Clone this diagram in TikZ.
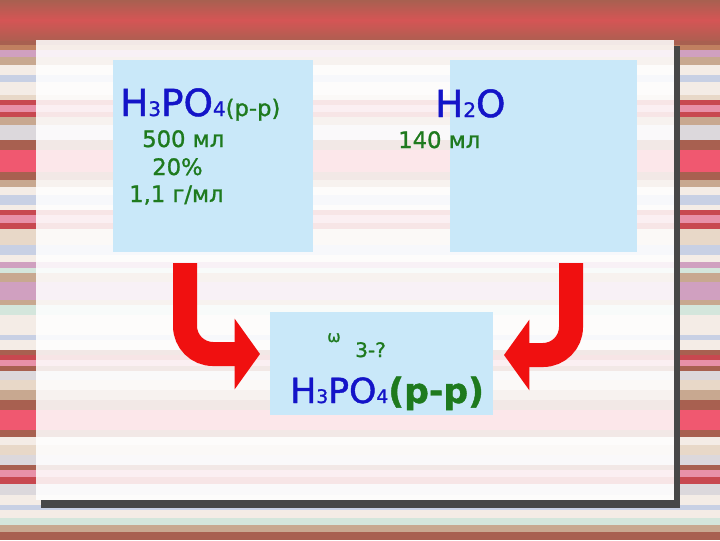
\documentclass[tikz,border=0pt]{standalone}
\usepackage{fontspec}
\setmainfont{DejaVu Sans}
\newfontfamily\heavy[FakeBold=1.2]{DejaVu Sans}
\usepackage{tikz}
\usetikzlibrary{arrows.meta}

\definecolor{sred}{HTML}{F05870}
\definecolor{sbrn}{HTML}{A86050}
\definecolor{sorng}{HTML}{C08060}
\definecolor{spink}{HTML}{E890A8}
\definecolor{srose}{HTML}{C84850}
\definecolor{stan}{HTML}{C8A890}
\definecolor{smauve}{HTML}{D0A0C0}
\definecolor{slite}{HTML}{F4ECE6}
\definecolor{sblue}{HTML}{C8D0E4}
\definecolor{sgrey}{HTML}{DCD8DC}
\definecolor{sgreen}{HTML}{D4E6DC}
\definecolor{sbeige}{HTML}{E8D8C8}
\definecolor{bandred}{HTML}{D55555}
\definecolor{boxblue}{HTML}{C9E8F9}
\definecolor{chemblue}{HTML}{1414C8}
\definecolor{chemgreen}{HTML}{1E7A1E}
\definecolor{arrowred}{HTML}{F01010}

\newcommand{\idx}[2]{{\fontsize{#1}{#1}\selectfont #2}}

\begin{document}
\begin{tikzpicture}[x=0.75pt,y=-0.75pt]
\tikzstyle{box}=[fill=boxblue, inner sep=0pt];
\tikzstyle{txt}=[inner sep=0pt, anchor=base west, font=\heavy];
\tikzstyle{redarrow}=[draw=arrowred, line width=18pt, rounded corners=21pt, -{Triangle[length=19pt,width=52pt]}];
\useasboundingbox (0,0) rectangle (720,540);

% background stripes
\fill[slite] (0,40) rectangle (720,540);
\foreach \ya/\yb/\col in {40/45/sbrn, 45/50/sorng, 50/57/smauve, 57/65/stan,
  75/82/sblue, 95/100/sbeige, 100/105/srose, 105/112/spink, 112/117/srose,
  117/125/stan, 125/140/sgrey, 140/150/sbrn, 150/172/sred, 172/180/sbrn,
  180/187/stan, 195/205/sblue, 210/215/srose, 215/223/spink, 223/229/srose,
  229/245/sbeige, 245/255/sblue, 262/268/smauve, 268/273/sgreen, 273/282/stan,
  282/300/smauve, 300/305/stan, 305/315/sgreen, 335/340/sblue, 350/355/sbrn,
  355/360/srose, 360/366/spink, 366/371/sbrn, 371/380/sgrey, 380/390/sbeige,
  390/400/stan, 400/410/sbrn, 410/430/sred, 430/437/sbrn, 445/455/sbeige,
  455/465/sgrey, 465/470/sbrn, 470/477/spink, 477/484/srose, 484/495/sgrey,
  505/510/sblue, 518/525/sgreen, 525/532/stan, 532/540/sbrn}
  \fill[\col] (0,\ya) rectangle (720,\yb);
\shade[top color=sbrn, bottom color=sbrn!85!bandred, middle color=bandred] (0,0) rectangle (720,40);

% slide panel
\fill[black!72] (674,46) rectangle (680,508);
\fill[black!72] (41,500) rectangle (680,508);
\fill[white, fill opacity=0.86] (36,40) rectangle (674,500);

% boxes
\path (213,156) node[box, minimum width=150pt, minimum height=144pt] (lbox) {};
\path (543.5,156) node[box, minimum width=140.25pt, minimum height=144pt] (rbox) {};
\path (381.5,363.5) node[box, minimum width=167.25pt, minimum height=77.25pt] (res) {};

% texts
\path (120,116) node[txt] (acid) {\fontsize{28}{30}\selectfont\color{chemblue}H\idx{15}{3}PO\idx{15}{4}\color{chemgreen}\idx{17}{(р-р)}};
\path (142,147) node[txt] (vol) {\fontsize{17}{20}\selectfont\color{chemgreen}500 мл};
\path (152,175) node[txt] (conc) {\fontsize{17}{20}\selectfont\color{chemgreen}20\%};
\path (129,202) node[txt] (dens) {\fontsize{17}{20}\selectfont\color{chemgreen}1,1 г/мл};
\path (435,117) node[txt] (water) {\fontsize{28}{30}\selectfont\color{chemblue}H\idx{15}{2}O};
\path (398,148) node[txt] (wvol) {\fontsize{17}{20}\selectfont\color{chemgreen}140 мл};
\path (327,342) node[txt] (omega) {\fontsize{12}{14}\selectfont\color{chemgreen}ω};
\path (355,357) node[txt] (ask) {\fontsize{15}{18}\selectfont\color{chemgreen}3-?};
\path (290,403) node[txt] (prod) {\fontsize{26}{30}\selectfont\color{chemblue}H\idx{14}{3}PO\idx{14}{4}\color{chemgreen}\bfseries(р-р)};

% arrows
\coordinate (la0) at (185,263);
\coordinate (la1) at (260,354);
\coordinate (ra0) at (571,263);
\coordinate (ra1) at (504,355);
\draw[redarrow] (la0) |- (la1);
\draw[redarrow] (ra0) |- (ra1);
\end{tikzpicture}
\end{document}
